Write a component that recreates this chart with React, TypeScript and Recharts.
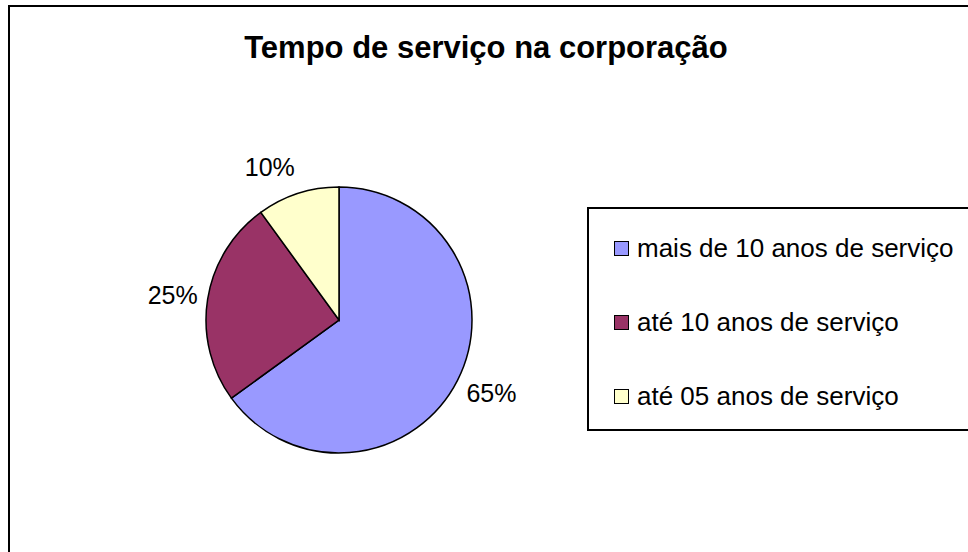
import React from "react";
import { PieChart, Pie, Cell, Legend } from "recharts";

const categories = [
  "mais de 10 anos de serviço",
  "até 10 anos de serviço",
  "até 05 anos de serviço",
];
const values = [65, 25, 10];
const colors = ["#9999FF", "#993366", "#FFFFCC"];
const title = "Tempo de serviço na corporação";

const data = categories.map((name, i) => ({ name, value: values[i] }));

const FONT = "'Liberation Sans', Arial, sans-serif";
const RAD = Math.PI / 180;

const renderLabel = (props: any) => {
  const { cx, cy, midAngle, outerRadius, value } = props;
  const r = outerRadius + 10;
  const c = Math.cos(-midAngle * RAD);
  const s = Math.sin(-midAngle * RAD);
  const x = cx + r * c;
  const y = cy + r * s + s * 18;
  return (
    <text
      x={x}
      y={y}
      textAnchor={c < 0 ? "end" : "start"}
      dominantBaseline="central"
      fontFamily={FONT}
      fontSize={25}
      fill="#000"
    >
      {`${value}%`}
    </text>
  );
};

const LegendContent = () => (
  <div
    style={{
      boxSizing: "border-box",
      width: 420,
      height: 224,
      border: "2px solid #000",
      background: "#fff",
      fontFamily: FONT,
      fontSize: 26,
      position: "relative",
    }}
  >
    {data.map((d, i) => (
      <div
        key={d.name}
        style={{
          position: "absolute",
          left: 25,
          top: 39 + i * 74 - 18,
          height: 36,
          display: "flex",
          alignItems: "center",
          whiteSpace: "nowrap",
          color: "#000",
        }}
      >
        <span
          style={{
            display: "inline-block",
            boxSizing: "border-box",
            width: 15,
            height: 15,
            background: colors[i],
            border: "1.5px solid #000",
            marginRight: 8,
          }}
        />
        {d.name}
      </div>
    ))}
  </div>
);

export default function App() {
  return (
    <div
      style={{
        position: "absolute",
        left: 0,
        top: 0,
        width: 968,
        height: 552,
        overflow: "hidden",
        background: "#fff",
      }}
    >
      <div
        style={{
          position: "absolute",
          left: 8,
          top: 5,
          width: 1100,
          height: 700,
          borderLeft: "2px solid #000",
          borderTop: "2px solid #000",
        }}
      />
      <div style={{ position: "absolute", left: 0, top: 0 }}>
        <PieChart width={968} height={552} margin={{ top: 0, right: 0, bottom: 0, left: 0 }}>
          <text
            x={486}
            y={58}
            textAnchor="middle"
            fontFamily={FONT}
            fontWeight="bold"
            fontSize={31}
            fill="#000"
          >
            {title}
          </text>
          <Pie
            data={data}
            dataKey="value"
            nameKey="name"
            cx={339}
            cy={320}
            outerRadius={133}
            startAngle={90}
            endAngle={-270}
            stroke="#000"
            strokeWidth={1.5}
            label={renderLabel}
            labelLine={false}
            isAnimationActive={false}
          >
            {data.map((d, i) => (
              <Cell key={d.name} fill={colors[i]} />
            ))}
          </Pie>
          <Legend
            content={<LegendContent />}
            wrapperStyle={{ position: "absolute", left: 587, top: 207, width: 420, height: 224 }}
          />
        </PieChart>
      </div>
    </div>
  );
}
